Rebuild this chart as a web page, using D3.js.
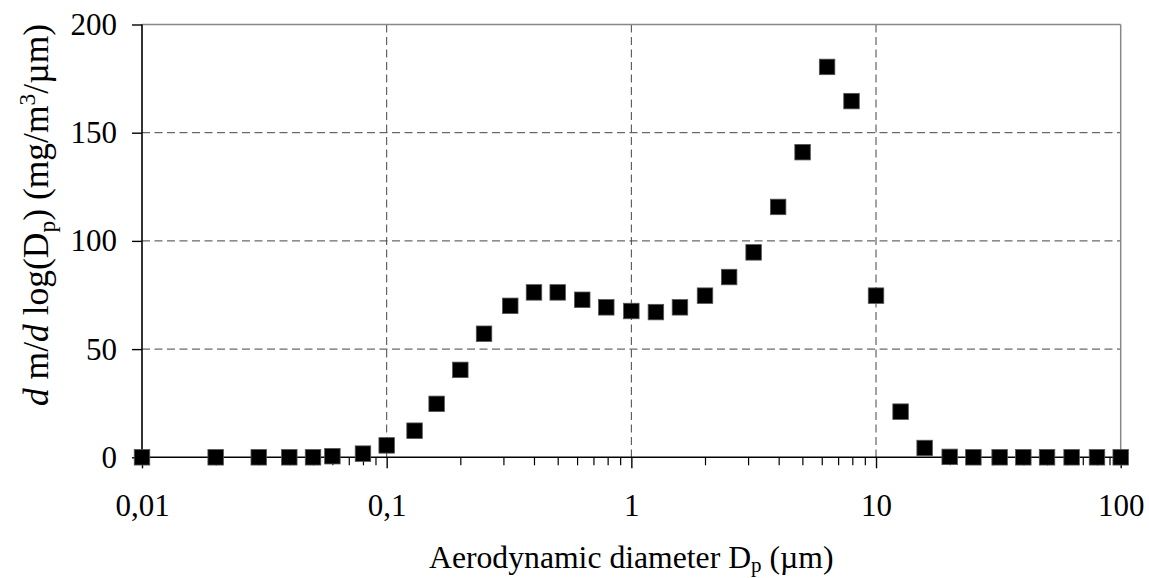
<!DOCTYPE html>
<html>
<head>
<meta charset="utf-8">
<script src="https://cdn.jsdelivr.net/npm/d3@7/dist/d3.min.js"></script>
<style>
  html, body { margin: 0; padding: 0; background: #fff; }
  svg { display: block; }
  text { font-family: "Liberation Serif", "Times New Roman", serif; fill: #000; }
</style>
</head>
<body>
<svg id="chart" width="1149" height="578"></svg>
<script>
// ---- data ----
const diameters = [0.01, 0.02, 0.03, 0.04, 0.05, 0.06, 0.08, 0.1, 0.13, 0.16, 0.2, 0.25, 0.32, 0.4, 0.5, 0.63, 0.79, 1.0, 1.26, 1.58, 2.0, 2.51, 3.16, 3.98, 5.01, 6.31, 7.94, 10, 12.6, 15.8, 20, 25, 32, 40, 50, 63, 80, 100];
const concentrations = [0, 0, 0, 0, 0, 0.5, 1.7, 5.5, 12.3, 24.7, 40.4, 57.1, 70.0, 76.2, 76.2, 72.8, 69.3, 67.6, 67.1, 69.3, 74.7, 83.3, 94.7, 115.7, 141.0, 180.4, 164.6, 74.7, 21.1, 4.3, 0.2, 0, 0, 0, 0, 0, 0, 0];
const xTickValues = [0.01, 0.1, 1, 10, 100];
const xTickLabels = ["0,01", "0,1", "1", "10", "100"];
const yTickValues = [0, 50, 100, 150, 200];

// ---- layout ----
const svg = d3.select("#chart");
const pL = 142, pR = 1120.7, pT = 24.5, pB = 457.3;

const x = d3.scaleLog().domain([0.01, 100]).range([pL, pR]);
const y = d3.scaleLinear().domain([0, 200]).range([pB, pT]);

// minor ticks
const minorTicks = [];
for (let e = -2; e < 2; e++) {
  for (let m = 2; m <= 9; m++) minorTicks.push(m * Math.pow(10, e));
}

// gridlines
const grid = svg.append("g");
grid.selectAll("line.hg").data(yTickValues.filter(v => v > 0 && v < 200)).join("line")
  .attr("x1", pL).attr("x2", pR)
  .attr("y1", d => y(d)).attr("y2", d => y(d))
  .attr("stroke", "#444").attr("stroke-width", 1).attr("stroke-dasharray", "8,4.5");
grid.selectAll("line.vg").data(xTickValues.filter(v => v > 0.01 && v < 100)).join("line")
  .attr("x1", d => x(d)).attr("x2", d => x(d))
  .attr("y1", pT).attr("y2", pB)
  .attr("stroke", "#444").attr("stroke-width", 1).attr("stroke-dasharray", "8,4.5");

// top & right border
svg.append("line").attr("x1", pL).attr("x2", pR).attr("y1", pT).attr("y2", pT)
  .attr("stroke", "#888").attr("stroke-width", 1.5);
svg.append("line").attr("x1", pR).attr("x2", pR).attr("y1", pT).attr("y2", pB)
  .attr("stroke", "#888").attr("stroke-width", 1.5);

// x axis minor ticks
const xMinor = d3.axisBottom(x).tickValues(minorTicks).tickSize(8).tickFormat("");
const gxm = svg.append("g").attr("transform", `translate(0,${pB})`).call(xMinor);
gxm.select(".domain").remove();
gxm.selectAll("line").attr("stroke", "#000").attr("stroke-width", 1.2);

// x axis major
const xAxis = d3.axisBottom(x).tickValues(xTickValues).tickSize(11).tickPadding(26)
  .tickFormat((d, i) => xTickLabels[i]);
const gx = svg.append("g").attr("transform", `translate(0,${pB})`).call(xAxis);
gx.select(".domain").attr("stroke", "#000").attr("stroke-width", 1.6).attr("d", `M${pL},0H${pR}`);
gx.selectAll("line").attr("stroke", "#000").attr("stroke-width", 1.4);
gx.selectAll("text").attr("font-size", 31).attr("font-family", "Liberation Serif").attr("fill", "#000");

// y axis
const yAxis = d3.axisLeft(y).tickValues(yTickValues).tickSize(10).tickPadding(15);
const gy = svg.append("g").attr("transform", `translate(${pL},0)`).call(yAxis);
gy.select(".domain").attr("stroke", "#000").attr("stroke-width", 1.6).attr("d", `M0,${pB}V${pT}`);
gy.selectAll("line").attr("stroke", "#000").attr("stroke-width", 1.4);
gy.selectAll("text").attr("font-size", 31).attr("font-family", "Liberation Serif").attr("fill", "#000");

// markers
const size = 15.5;
svg.append("g").selectAll("rect").data(diameters.map((d, i) => [d, concentrations[i]])).join("rect")
  .attr("x", d => x(d[0]) - size / 2)
  .attr("y", d => y(d[1]) - size / 2)
  .attr("width", size).attr("height", size)
  .attr("fill", "#000").attr("stroke", "#555").attr("stroke-width", 0.8);

// x title
const xt = svg.append("text").attr("x", 429).attr("y", 568)
  .attr("text-anchor", "start").attr("font-size", 31.7);
xt.append("tspan").text("Aerodynamic diameter D");
xt.append("tspan").attr("font-size", 21).attr("dy", 4).text("p");
xt.append("tspan").attr("dy", -4).text(" (\u00b5m)");

// y title
const yt = svg.append("text").attr("transform", `translate(48,215) rotate(-90)`)
  .attr("text-anchor", "middle").attr("font-size", 35.5);
yt.append("tspan").attr("font-style", "italic").text("d");
yt.append("tspan").text(" m/");
yt.append("tspan").attr("font-style", "italic").text("d");
yt.append("tspan").text(" log(D");
yt.append("tspan").attr("font-size", 23.5).attr("dy", 7).text("p");
yt.append("tspan").attr("dy", -7).text(") (mg/m");
yt.append("tspan").attr("font-size", 23.5).attr("dy", -13).text("3");
yt.append("tspan").attr("dy", 13).text("/\u00b5m)");
</script>
</body>
</html>
